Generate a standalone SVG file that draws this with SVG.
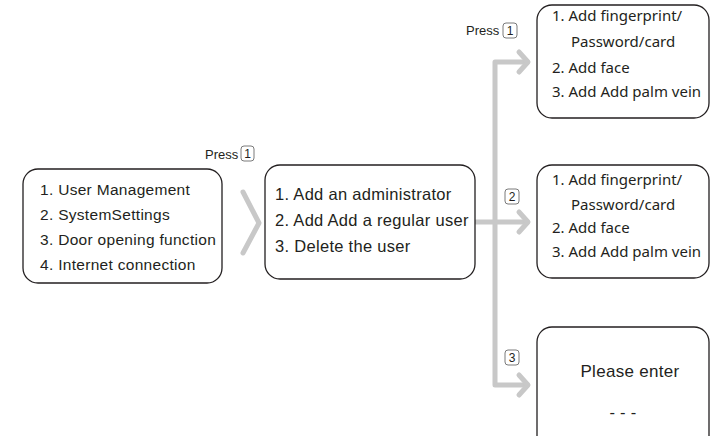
<svg xmlns="http://www.w3.org/2000/svg" width="710" height="436" viewBox="0 0 710 436">
<style>
.box{fill:#fff;stroke:#231f20;stroke-width:1.3}
.t{font-family:"Liberation Sans",Arial,sans-serif;font-size:16.5px;letter-spacing:0.3px;fill:#231f20}
.m{font-family:"Liberation Sans",Arial,sans-serif;font-size:15.5px;letter-spacing:0.3px;fill:#231f20}
.r{font-family:"Noto Sans","Liberation Sans",sans-serif;font-size:15px;fill:#231f20}
.p{font-family:"Liberation Sans",Arial,sans-serif;font-size:13px;fill:#231f20}
.n{font-family:"Liberation Sans",Arial,sans-serif;font-size:12px;fill:#231f20}
.b{fill:#fff;stroke:#7a7a7a;stroke-width:1}
.c{fill:none;stroke:#c8c8c8;stroke-width:5;stroke-linecap:round;stroke-linejoin:round}
</style>
<rect width="710" height="436" fill="#fff"/>
<g id="connectors">
<polyline class="c" points="243,192 259,223 243,253"/>
<polyline class="c" points="527,62 495,62 495,385 527,385"/>
<line class="c" x1="476" y1="222" x2="527" y2="222"/>
<polyline class="c" points="519,52 528,62 519,72"/>
<polyline class="c" points="519,212 528,222 519,232"/>
<polyline class="c" points="519,375 528,385 519,395"/>
</g>
<g id="label-press1a">
<text class="p" x="205" y="159">Press</text>
<rect class="b" x="241" y="146" width="13" height="15" rx="3"/>
<text class="n" x="247.5" y="158" text-anchor="middle">1</text>
</g>
<g id="label-press1b">
<text class="p" x="466" y="35">Press</text>
<rect class="b" x="503" y="23" width="14" height="15" rx="3"/>
<text class="n" x="510" y="35" text-anchor="middle">1</text>
</g>
<g id="label-2">
<rect class="b" x="505" y="189" width="14" height="15" rx="3"/>
<text class="n" x="512" y="201" text-anchor="middle">2</text>
</g>
<g id="label-3">
<rect class="b" x="505" y="350" width="14" height="15" rx="3"/>
<text class="n" x="512" y="362" text-anchor="middle">3</text>
</g>
<g id="main-menu">
<rect class="box" x="23" y="169" width="199" height="114" rx="15"/>
<text class="m" x="40" y="195">1. User Management</text>
<text class="m" x="40" y="220">2. SystemSettings</text>
<text class="m" x="40" y="245">3. Door opening function</text>
<text class="m" x="40" y="270">4. Internet connection</text>
</g>
<g id="user-menu">
<rect class="box" x="265" y="165" width="210" height="114" rx="15"/>
<text class="t" x="275" y="200">1. Add an administrator</text>
<text class="t" x="275" y="226">2. Add Add a regular user</text>
<text class="t" x="275" y="252">3. Delete the user</text>
</g>
<g id="admin-add">
<rect class="box" x="537" y="5" width="172" height="113" rx="15"/>
<text class="r" x="552" y="21">1. Add fingerprint/</text>
<text class="r" x="571" y="47">Password/card</text>
<text class="r" x="552" y="73">2. Add face</text>
<text class="r" x="552" y="97">3. Add Add palm vein</text>
</g>
<g id="user-add">
<rect class="box" x="537" y="165" width="172" height="113" rx="15"/>
<text class="r" x="552" y="185">1. Add fingerprint/</text>
<text class="r" x="571" y="210">Password/card</text>
<text class="r" x="552" y="233">2. Add face</text>
<text class="r" x="552" y="257">3. Add Add palm vein</text>
</g>
<g id="delete-user">
<rect class="box" x="537" y="327" width="172" height="130" rx="15"/>
<text class="t" x="630" y="377" text-anchor="middle" style="font-size:17px">Please enter</text>
<text class="t" x="623" y="418" text-anchor="middle">- - -</text>
</g>
</svg>
